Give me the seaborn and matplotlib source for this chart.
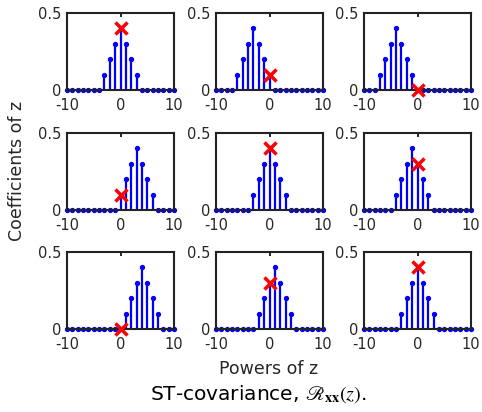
import numpy as np
import pandas as pd
import matplotlib
matplotlib.use("Agg")
import matplotlib.pyplot as plt
import seaborn as sns

# Powers of z (lags)
powers = list(range(-10, 11))

# Coefficients of z for each of the 9 panels (row-major), values at powers -10..10
coef_p1 = [0, 0, 0, 0, 0, 0, 0, 0.1, 0.2, 0.3, 0.4, 0.3, 0.2, 0.1, 0, 0, 0, 0, 0, 0, 0]
coef_p2 = [0, 0, 0, 0, 0.1, 0.2, 0.3, 0.4, 0.3, 0.2, 0.1, 0, 0, 0, 0, 0, 0, 0, 0, 0, 0]
coef_p3 = [0, 0, 0, 0.1, 0.2, 0.3, 0.4, 0.3, 0.2, 0.1, 0, 0, 0, 0, 0, 0, 0, 0, 0, 0, 0]
coef_p4 = [0, 0, 0, 0, 0, 0, 0, 0, 0, 0, 0.1, 0.2, 0.3, 0.4, 0.3, 0.2, 0.1, 0, 0, 0, 0]
coef_p5 = [0, 0, 0, 0, 0, 0, 0, 0.1, 0.2, 0.3, 0.4, 0.3, 0.2, 0.1, 0, 0, 0, 0, 0, 0, 0]
coef_p6 = [0, 0, 0, 0, 0, 0, 0.1, 0.2, 0.3, 0.4, 0.3, 0.2, 0.1, 0, 0, 0, 0, 0, 0, 0, 0]
coef_p7 = [0, 0, 0, 0, 0, 0, 0, 0, 0, 0, 0, 0.1, 0.2, 0.3, 0.4, 0.3, 0.2, 0.1, 0, 0, 0]
coef_p8 = [0, 0, 0, 0, 0, 0, 0, 0, 0.1, 0.2, 0.3, 0.4, 0.3, 0.2, 0.1, 0, 0, 0, 0, 0, 0]
coef_p9 = [0, 0, 0, 0, 0, 0, 0, 0.1, 0.2, 0.3, 0.4, 0.3, 0.2, 0.1, 0, 0, 0, 0, 0, 0, 0]
panels = [coef_p1, coef_p2, coef_p3, coef_p4, coef_p5, coef_p6, coef_p7, coef_p8, coef_p9]

# Red cross: value at power 0 in each panel
cross_power = [0, 0, 0, 0, 0, 0, 0, 0, 0]
cross_value = [0.4, 0.1, 0.0, 0.1, 0.4, 0.3, 0.0, 0.3, 0.4]

xticks = [-10, 0, 10]
yticks = [0, 0.5]
ytick_labels = ["0", "0.5"]
xlabel = "Powers of z"
ylabel = "Coefficients of z"
caption = r"ST-covariance, $\mathscr{R}_{\mathbf{xx}}(z)$."

sns.set_style("white")
plt.rcParams["font.family"] = ["DejaVu Sans"]
plt.rcParams["axes.unicode_minus"] = False
plt.rcParams["mathtext.fontset"] = "stix"

W, H = 482, 412
fig = plt.figure(figsize=(W / 100, H / 100), dpi=100)
fig.patch.set_facecolor("white")

col_left = [67, 216, 364]
row_top = [13, 133, 252]
aw, ah = 107, 77

for i, vals in enumerate(panels):
    r, c = divmod(i, 3)
    ax = fig.add_axes([col_left[c] / W, (H - row_top[r] - ah) / H, aw / W, ah / H])
    ml, sl, bl = ax.stem(powers, vals, linefmt="b-", markerfmt="bo", basefmt="k-")
    plt.setp(sl, linewidth=1.6, color=(0, 0, 1))
    plt.setp(ml, markersize=2.8, color=(0, 0, 1), clip_on=False, zorder=3)
    plt.setp(bl, linewidth=0)
    df = pd.DataFrame({"p": [cross_power[i]], "v": [cross_value[i]]})
    sns.scatterplot(data=df, x="p", y="v", ax=ax, marker="x", color=(1, 0, 0),
                    s=75, linewidth=2.5, zorder=5, clip_on=False, legend=False)
    ax.set_xlim(-10, 10)
    ax.set_ylim(0, 0.5)
    ax.set_xticks(xticks)
    ax.set_yticks(yticks)
    ax.set_yticklabels(ytick_labels)
    ax.set_xlabel("")
    ax.set_ylabel("")
    ax.tick_params(direction="in", length=3, width=1.2, top=True, right=True,
                   labelsize=10.5, colors="black", labelcolor="#262626")
    ax.tick_params(axis="x", pad=5.5)
    ax.tick_params(axis="y", pad=4)
    for s in ax.spines.values():
        s.set_visible(True)
        s.set_color("#222222")
        s.set_linewidth(1.5)
        s.set_zorder(4)

fig.text(269 / W, 1 - 369 / H, xlabel, ha="center", va="center", fontsize=12.5, color="#262626")
fig.text(17 / W, 1 - 171 / H, ylabel, ha="center", va="center", rotation=90, fontsize=12.5, color="#262626")
fig.text(258 / W, 1 - 394 / H, caption, ha="center", va="center", fontsize=14.5, color="black")

fig.savefig("out.png", dpi=100, facecolor="white")
